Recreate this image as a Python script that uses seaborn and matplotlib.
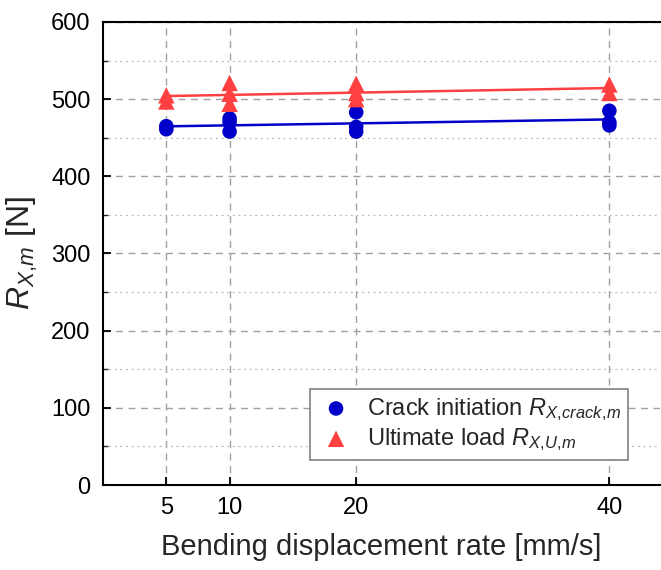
import numpy as np
import pandas as pd
import matplotlib
matplotlib.use("Agg")
import matplotlib.pyplot as plt
import seaborn as sns
from matplotlib.ticker import MultipleLocator

# Data
crack_rate = [5, 5, 10, 10, 10, 20, 20, 20, 40, 40, 40]
crack_load = [465, 461, 475, 470, 458, 483, 464, 458, 485, 470, 466]
ult_rate = [5, 5, 10, 10, 10, 20, 20, 20, 40, 40]
ult_load = [505, 497, 521, 507, 494, 520, 508, 500, 519, 508]
x_ticks = [5, 10, 20, 40]
y_ticks = [0, 100, 200, 300, 400, 500, 600]

sns.set_theme(style="white")
plt.rcParams['font.family'] = ['Liberation Sans', 'DejaVu Sans']
plt.rcParams['mathtext.fontset'] = 'custom'
plt.rcParams['mathtext.rm'] = 'Liberation Sans'
plt.rcParams['mathtext.it'] = 'Liberation Sans:italic'

blue = '#0000C8'
red = '#FF4040'

fig = plt.figure(figsize=(6.61, 5.70), dpi=100)
ax = fig.add_axes([103/661, 1-485/570, 557/661, 463/570])

df_c = pd.DataFrame({'rate': crack_rate, 'load': crack_load})
df_u = pd.DataFrame({'rate': ult_rate, 'load': ult_load})

sns.regplot(data=df_c, x='rate', y='load', scatter=False, ci=None, ax=ax,
            line_kws=dict(color=blue, lw=1.8, zorder=3))
sns.regplot(data=df_u, x='rate', y='load', scatter=False, ci=None, ax=ax,
            line_kws=dict(color=red, lw=1.8, zorder=3))
sns.scatterplot(data=df_c, x='rate', y='load', ax=ax, marker='o', s=110,
                color=blue, edgecolor='none', zorder=4,
                label=r'Crack initiation $R_{X,\!crack,\!m}$')
sns.scatterplot(data=df_u, x='rate', y='load', ax=ax, marker='^', s=140,
                color=red, edgecolor='none', zorder=4,
                label=r'Ultimate load $R_{X,\!U,\!m}$')

ax.set_xlim(0, 44)
ax.set_ylim(0, 600)
ax.set_xticks(x_ticks)
ax.set_yticks(y_ticks)
ax.yaxis.set_minor_locator(MultipleLocator(50))
ax.tick_params(axis='both', which='major', direction='in', length=6, width=1.3,
               labelsize=17, colors='black', pad=9, left=True, bottom=True)
ax.tick_params(axis='y', which='minor', direction='in', length=3.5, width=1.0, left=True)
ax.tick_params(axis='x', which='minor', bottom=False)

ax.grid(True, which='major', axis='both', linestyle=(0, (5, 4)), color='#A0A0A0', lw=1.0)
ax.grid(True, which='minor', axis='y', linestyle=(0, (1.5, 3)), color='#B8B8B8', lw=0.9)
ax.set_axisbelow(True)

for s in ['left', 'bottom', 'top']:
    ax.spines[s].set_color('black')
    ax.spines[s].set_linewidth(1.5)
ax.spines['right'].set_visible(False)

ax.set_xlabel('Bending displacement rate [mm/s]', fontsize=21, labelpad=10)
ax.set_ylabel(r'$R_{X,\!m}$ [N]', fontsize=23, labelpad=8)

leg = ax.legend(loc='lower right', bbox_to_anchor=(628/661, 1-460/570),
                bbox_transform=fig.transFigure, fontsize=17, frameon=True,
                fancybox=False, edgecolor='#808080', framealpha=1,
                handletextpad=0.5, handlelength=1.6, borderpad=0.3,
                labelspacing=0.15, borderaxespad=0, markerscale=1.0)
leg.get_frame().set_linewidth(1.2)

fig.savefig('out.png', dpi=100)
